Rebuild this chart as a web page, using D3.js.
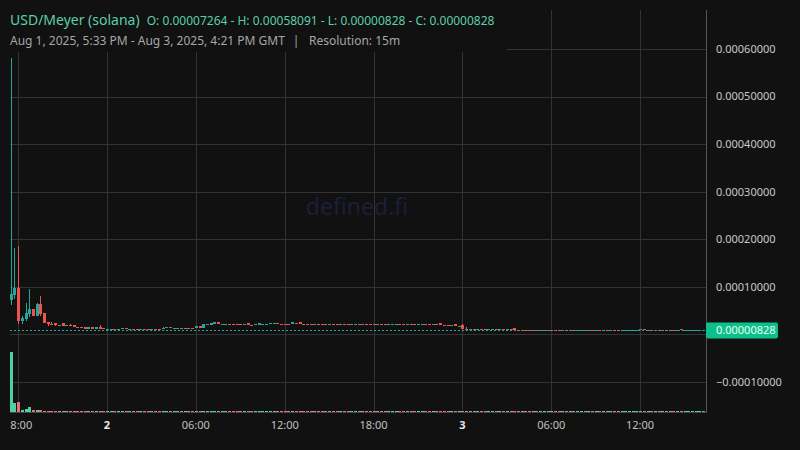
<!DOCTYPE html>
<html><head><meta charset="utf-8">
<script src="https://cdn.jsdelivr.net/npm/d3@7"></script>
<style>html,body{margin:0;padding:0;background:#111111;}svg{display:block;}</style>
</head><body><svg id="c" width="800" height="450"></svg>
<script>
// ---- data (prices in units of 1e-8 USD) ----
const pairName = "USD/Meyer (solana)";
const rangeText = "Aug 1, 2025, 5:33 PM - Aug 3, 2025, 4:21 PM GMT";
const resolutionText = "Resolution: 15m";
const watermark = "defined.fi";
const firstBarTime = "2025-08-01T17:30:00Z";
const barMinutes = 15;
const opens = [7264,8230,9704,2821,3179,4231,5284,3873,6336,4442,2547,2189,2337,1850,2337,1880,1979,1915,1642,1490,1495,1137,1495,1137,1495,1260,
1210,1230,1240,1220,1235,1250,1225,1240,1215,1200,1220,1205,1190,1210,1195,1100,1450,1640,1400,1430,1440,1420,1440,1430,1284,1705,1284,2100,1915,2126,2547,
2240,2270,2280,2260,2250,2240,2230,2337,2000,2100,1915,2260,2280,2290,2300,2310,2290,2280,2270,2126,2500,2547,
2290,2275,2265,2255,2270,2260,2250,2240,2255,2245,2235,2250,2240,2230,2245,2260,2250,2265,2255,2245,2235,2250,2240,2230,2245,2260,2275,2265,2255,2270,2260,2250,2265,2280,2270,2260,2275,
2337,2000,1990,1970,2126,1840,1915,1100,
1150,1170,1160,1180,1165,1150,1170,1185,1170,1185,1170,1190,1284,
1000,985,1000,985,970,985,965,980,995,980,995,975,960,975,955,970,950,965,980,960,975,955,970,950,965,945,960,940,
870,880,885,890,895,863,1040,1020,1035,1015,1030,1010,1025,1005,1020,1000,1137,828,830,829,830,828,828];
const highs = [58091,18124,18608,3810,6547,9494,5284,6547,8083,4442,2547,2547,2337,2050,2337,1920,2189,1915,1642,1520,1495,1495,1495,1495,1915,1260,
1230,1240,1240,1235,1250,1250,1240,1240,1215,1220,1220,1205,1210,1210,1195,1460,1500,1650,1430,1440,1440,1440,1440,1430,1705,1705,2126,2130,2337,2547,2547,
2270,2280,2280,2260,2250,2240,2250,2337,2000,2250,2337,2280,2290,2300,2310,2310,2290,2280,2270,2547,2500,2547,
2290,2275,2265,2270,2270,2260,2250,2255,2255,2245,2250,2250,2240,2245,2260,2260,2265,2265,2255,2245,2250,2250,2240,2245,2260,2275,2275,2265,2270,2270,2260,2265,2280,2280,2270,2275,2275,
2337,2000,1990,1990,2126,1860,2126,1495,
1170,1170,1180,1180,1165,1170,1185,1185,1185,1185,1190,1190,1284,
1000,1000,1000,985,985,985,980,995,995,995,995,975,975,975,970,970,965,980,980,975,975,970,970,965,965,960,960,940,
880,885,890,895,900,1137,1040,1035,1035,1030,1030,1025,1025,1020,1020,1015,1137,834,836,835,834,832,845];
const lows = [6189,7389,2126,2126,2821,3663,3873,3873,3873,2337,1768,2063,1705,1800,1768,1880,1705,1558,1347,1380,1137,1137,1137,1137,1137,1200,
1210,1230,1220,1220,1235,1225,1225,1215,1200,1200,1205,1190,1190,1195,1180,1100,1450,1300,1400,1430,1420,1420,1430,1410,1284,1284,1284,2100,1915,2126,2126,
2240,2270,2260,2250,2240,2230,2230,1915,1980,2050,1915,2260,2280,2290,2300,2290,2280,2270,2260,2126,2480,2126,
2275,2265,2255,2255,2260,2250,2240,2240,2245,2235,2235,2240,2230,2230,2245,2250,2250,2255,2245,2235,2235,2240,2230,2230,2245,2260,2265,2255,2255,2260,2250,2250,2265,2270,2260,2260,2265,
1915,1980,1970,1970,1705,1840,1050,1000,
1150,1160,1160,1165,1150,1150,1170,1170,1170,1170,1170,1175,1010,
985,985,985,970,970,965,965,980,980,980,975,960,960,955,955,950,950,965,960,960,955,955,950,950,945,945,940,925,
870,880,885,890,895,863,1020,1020,1015,1015,1010,1010,1005,1005,1000,1000,850,828,830,829,830,828,828];
const closes = [8441,9704,2821,3389,4442,5284,3873,6336,4231,2337,2273,2063,1915,2000,1768,1910,1705,1558,1347,1410,1137,1495,1137,1495,1137,1210,
1230,1240,1220,1235,1250,1225,1240,1215,1200,1220,1205,1190,1210,1195,1180,1450,1500,1300,1430,1440,1420,1440,1430,1410,1705,1284,2126,2130,2337,2547,2126,
2270,2280,2260,2250,2240,2230,2250,1915,1980,2190,2337,2280,2290,2300,2310,2290,2280,2270,2260,2547,2480,2126,
2275,2265,2255,2270,2260,2250,2240,2255,2245,2235,2250,2240,2230,2245,2260,2250,2265,2255,2245,2235,2250,2240,2230,2245,2260,2275,2265,2255,2270,2260,2250,2265,2280,2270,2260,2275,2265,
1915,1980,1970,1990,1705,1860,1050,1010,
1170,1160,1180,1165,1150,1170,1185,1170,1185,1170,1190,1175,1010,
985,1000,985,970,985,965,980,995,980,995,975,960,975,955,970,950,965,980,960,975,955,970,950,965,945,960,940,925,
880,885,890,895,900,1137,1020,1035,1015,1030,1010,1025,1005,1020,1000,1015,850,834,836,835,834,832,828];
const volumes = [100,15.5,16.7,3.3,5,8.3,3.3,3.3,3.3,2.2,1.8,1.6,1.7,1.5,1.8,1.5,1.6,1.7,1.6,1.5,1.7,1.6,1.5,1.6,1.8,1.5,
1.6,1.5,1.7,1.6,1.5,1.6,1.7,1.5,1.6,1.5,1.6,1.7,1.5,1.6,1.5,1.8,1.7,1.6,1.5,1.6,1.5,1.7,1.6,1.5,1.7,1.6,1.8,1.6,1.7,1.8,1.7,
1.6,1.5,1.6,1.5,1.7,1.6,1.5,1.7,1.6,1.5,1.7,1.6,1.5,1.6,1.5,1.7,1.6,1.5,1.6,1.7,1.5,1.7,
1.6,1.5,1.6,1.5,1.6,1.7,1.5,1.6,1.5,1.6,1.7,1.5,1.6,1.5,1.6,1.5,1.7,1.6,1.5,1.6,1.5,1.7,1.6,1.5,1.6,1.5,1.7,1.6,1.5,1.6,1.5,1.7,1.6,1.5,1.6,1.5,1.6,
1.7,1.6,1.5,1.6,1.7,1.5,1.8,1.7,
1.6,1.5,1.6,1.5,1.7,1.6,1.5,1.6,1.5,1.6,1.5,1.7,1.7,
1.6,1.5,1.6,1.5,1.6,1.7,1.5,1.6,1.5,1.6,1.5,1.7,1.6,1.5,1.6,1.5,1.6,1.7,1.5,1.6,1.5,1.6,1.5,1.7,1.6,1.5,1.6,1.5,
1.6,1.5,1.6,1.5,1.6,1.7,1.6,1.5,1.6,1.5,1.6,1.5,1.6,1.5,1.6,1.5,1.7,1.6,1.5,1.6,1.5,1.6,1.6];
const gridPrices = [0.0006,0.0005,0.0004,0.0003,0.0002,0.0001,0,-0.0001];
const labelPrices = [0.0006,0.0005,0.0004,0.0003,0.0002,0.0001,-0.0001];
const timeTicks = ["2025-08-01T18:00:00Z","2025-08-02T00:00:00Z","2025-08-02T06:00:00Z","2025-08-02T12:00:00Z","2025-08-02T18:00:00Z","2025-08-03T00:00:00Z","2025-08-03T06:00:00Z","2025-08-03T12:00:00Z"];
const timeTickLabels = ["18:00","2","06:00","12:00","18:00","3","06:00","12:00"];
const timeTickBold = [false,true,false,false,false,true,false,false];

// ---- layout ----
const W = 800, H = 450;
const L = 10, R = 706, T = 10, B = 412;
const upC = "#26a69a", dnC = "#ef5350", upV = "#4fcfa3", dnV = "#e8707a";
const FONT = "'Noto Sans', 'Open Sans', sans-serif";
const svg = d3.select("#c");
svg.append("rect").attr("width", W).attr("height", H).attr("fill", "#111111");

const t0 = new Date(firstBarTime).getTime();
const bars = opens.map((o, i) => ({
  t: new Date(t0 + i * barMinutes * 60000),
  o: o * 1e-8, h: highs[i] * 1e-8, l: lows[i] * 1e-8, c: closes[i] * 1e-8, v: volumes[i]
}));

const x = d3.scaleTime()
  .domain([new Date("2025-08-01T17:27:00Z"), new Date("2025-08-03T16:27:00Z")])
  .range([L, R]);
const y = d3.scaleLinear().domain([-0.0001, 0.0006]).range([382, 49]);
const yv = d3.scaleLinear().domain([0, 100]).range([B, B - 60]);
const bw = 3;
const bx = d => Math.round(x(d.t)) - 1;

const defs = svg.append("defs");
defs.append("clipPath").attr("id", "plot").append("rect").attr("x", L).attr("y", T).attr("width", R - L).attr("height", B - T);
defs.append("clipPath").attr("id", "axisclip").append("rect").attr("x", L).attr("y", B).attr("width", R - L).attr("height", H - B);

// grid
const grid = svg.append("g").attr("shape-rendering", "crispEdges");
grid.selectAll("line.h").data(gridPrices).join("line").attr("class", "h")
  .attr("x1", L).attr("x2", R).attr("y1", d => Math.round(y(d)) + 0.5).attr("y2", d => Math.round(y(d)) + 0.5)
  .attr("stroke", "#333333");
grid.selectAll("line.v").data(timeTicks).join("line").attr("class", "v")
  .attr("x1", d => Math.round(x(new Date(d))) + 0.5).attr("x2", d => Math.round(x(new Date(d))) + 0.5)
  .attr("y1", T).attr("y2", B).attr("stroke", "#333333");

// watermark
svg.append("text").attr("x", 357).attr("y", 215).attr("text-anchor", "middle")
  .attr("font-family", FONT).attr("font-size", 23).attr("fill", "#1b1f3a").text(watermark);

const plot = svg.append("g").attr("clip-path", "url(#plot)");

// volume
plot.append("g").attr("shape-rendering", "crispEdges").selectAll("rect").data(bars).join("rect")
  .attr("x", bx).attr("width", bw)
  .attr("y", d => Math.min(yv(d.v), B - 1)).attr("height", d => Math.max(1, B - yv(d.v)))
  .attr("fill", d => d.c >= d.o ? upV : dnV);

// last price line
const last = bars[bars.length - 1];
plot.append("line").attr("x1", L).attr("x2", R).attr("y1", y(last.c)).attr("y2", y(last.c))
  .attr("stroke", upC).attr("stroke-width", 1).attr("stroke-dasharray", "2,2");

// candles
const cg = plot.append("g").attr("shape-rendering", "crispEdges");
cg.selectAll("line").data(bars).join("line")
  .attr("x1", d => Math.round(x(d.t)) + 0.5).attr("x2", d => Math.round(x(d.t)) + 0.5)
  .attr("y1", d => y(d.h)).attr("y2", d => y(d.l))
  .attr("stroke", d => d.c >= d.o ? upC : dnC);
cg.selectAll("rect").data(bars).join("rect")
  .attr("x", bx).attr("width", bw)
  .attr("y", d => y(Math.max(d.o, d.c)))
  .attr("height", d => Math.max(1, Math.abs(y(d.o) - y(d.c))))
  .attr("fill", d => d.c >= d.o ? upC : dnC);

// axes borders
svg.append("line").attr("x1", R + 0.5).attr("x2", R + 0.5).attr("y1", T).attr("y2", B + 0.5).attr("stroke", "#555").attr("shape-rendering", "crispEdges");
svg.append("line").attr("x1", L).attr("x2", R).attr("y1", B + 0.5).attr("y2", B + 0.5).attr("stroke", "#444").attr("shape-rendering", "crispEdges");

// price labels
const fmt = d3.format(".8f");
svg.append("g").selectAll("text").data(labelPrices).join("text")
  .attr("x", 716).attr("y", d => y(d)).attr("dy", "0.35em")
  .attr("font-family", FONT).attr("font-size", 11).attr("fill", "#c8c8c8")
  .text(d => fmt(d));
const ly = y(last.c);
svg.append("rect").attr("x", R).attr("y", ly - 8).attr("width", 72).attr("height", 16).attr("rx", 2)
  .attr("fill", "#0dbf8b");
svg.append("text").attr("x", 716).attr("y", ly).attr("dy", "0.35em")
  .attr("font-family", FONT).attr("font-size", 11).attr("fill", "#eafff6").text(fmt(last.c));

// time labels
svg.append("g").attr("clip-path", "url(#axisclip)").selectAll("text").data(timeTicks).join("text")
  .attr("x", d => x(new Date(d))).attr("y", 429).attr("text-anchor", "middle")
  .attr("font-family", FONT).attr("font-size", 11)
  .attr("font-weight", (d, i) => timeTickBold[i] ? "bold" : "normal")
  .attr("fill", (d, i) => timeTickBold[i] ? "#e6e6e6" : "#c0c0c0")
  .text((d, i) => timeTickLabels[i]);

// legend box
svg.append("rect").attr("x", 0).attr("y", 0).attr("width", 507).attr("height", 52).attr("fill", "#111111");
const oV = bars[0].o, hV = d3.max(bars, d => d.h), lV = d3.min(bars, d => d.l), cV = last.c;
const t1 = svg.append("text").attr("x", 10).attr("y", 25).attr("font-family", FONT).attr("fill", "#5ccfa8");
t1.append("tspan").attr("font-size", 14).text(pairName);
t1.append("tspan").attr("font-size", 12).attr("dx", 7)
  .text(`O: ${fmt(oV)} - H: ${fmt(hV)} - L: ${fmt(lV)} - C: ${fmt(cV)}`);
svg.append("text").attr("x", 10).attr("y", 45).attr("font-family", FONT).attr("font-size", 12).attr("fill", "#a6a6a6").text(rangeText);
svg.append("text").attr("x", 296).attr("y", 45).attr("text-anchor", "middle").attr("font-family", FONT).attr("font-size", 12).attr("fill", "#a6a6a6").text("|");
svg.append("text").attr("x", 309).attr("y", 45).attr("font-family", FONT).attr("font-size", 12).attr("fill", "#a6a6a6").text(resolutionText);
</script></body></html>
